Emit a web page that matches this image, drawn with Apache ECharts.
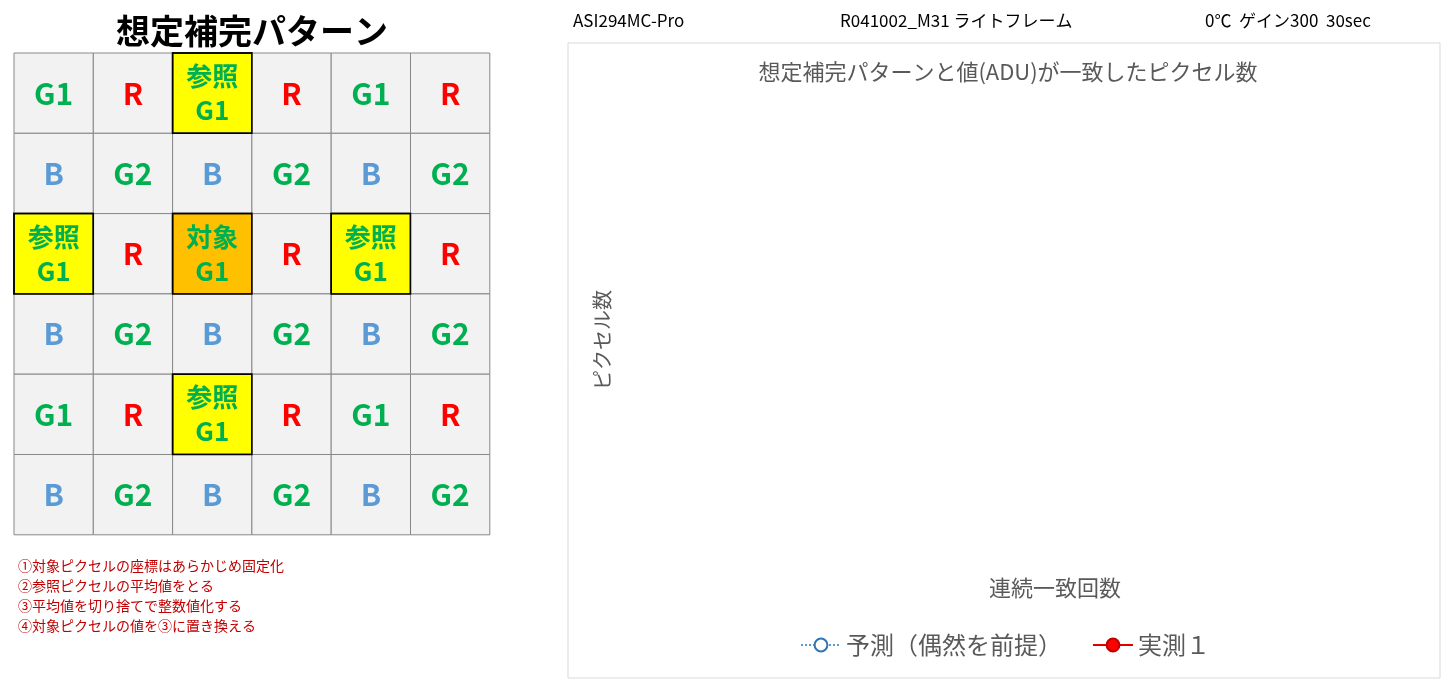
<!DOCTYPE html><html><head><meta charset="utf-8">
<script src="https://cdn.jsdelivr.net/npm/echarts@6/dist/echarts.min.js"></script>
<style>html,body{margin:0;background:#fff}#c{width:1456px;height:686px}</style></head><body><div id="c"></div>
<script>
const categories=['1','2','3','4','5','6','7','8','9','10','11','12','13','14','15'];
const predicted=[6.2e3,3.7e1,2.2e-1,1.3e-3,1.1e-5,6.6e-8,4.0e-10,2.4e-12,1.7e-14,1.0e-16,6.3e-19,4.0e-21,2.5e-23,1.6e-25,1.0e-27];
const measured=[6.2e3,900,900,900,900,900,900,900,900,900,900,900,900,900,900];
const cells=[
 ['G1','R','参照\nG1','R','G1','R'],
 ['B','G2','B','G2','B','G2'],
 ['参照\nG1','R','対象\nG1','R','参照\nG1','R'],
 ['B','G2','B','G2','B','G2'],
 ['G1','R','参照\nG1','R','G1','R'],
 ['B','G2','B','G2','B','G2']];
const notes=['①対象ピクセルの座標はあらかじめ固定化','②参照ピクセルの平均値をとる','③平均値を切り捨てで整数値化する','④対象ピクセルの値を③に置き換える'];
const F='"Noto Sans CJK JP","Noto Sans",sans-serif';
const g=[];
const x0=14,y0=53,cw=79.3,ch=80.3;
const colorOf=t=>t.indexOf('G')>=0?'#00b050':(t==='R'?'#ff0000':'#5b9bd5');
cells.forEach((row,r)=>row.forEach((t,c)=>{
  const ref=t.indexOf('\n')>=0, tgt=t.startsWith('対象');
  g.push({type:'rect',shape:{x:x0+c*cw,y:y0+r*ch,width:cw,height:ch},z:1,
    style:{fill:tgt?'#ffc000':(ref?'#ffff00':'#f2f2f2'),stroke:ref?'#000':'#888',lineWidth:ref?1.5:1}});
  g.push({type:'text',x:x0+c*cw+cw/2,y:y0+r*ch+ch/2,z:2,style:{text:t,fill:colorOf(t),font:'bold '+(ref?26:30)+'px '+F,align:'center',verticalAlign:'middle',lineHeight:34}});
}));
cells.forEach((row,r)=>row.forEach((t,c)=>{ if(t.indexOf('\n')>=0) g.push({type:'rect',z:3,shape:{x:x0+c*cw,y:y0+r*ch,width:cw,height:ch},style:{fill:'none',stroke:'#000',lineWidth:1.5}});}));
g.push({type:'text',x:252,y:31,style:{text:'想定補完パターン',font:'bold 34px '+F,fill:'#000',align:'center',verticalAlign:'middle'}});
notes.forEach((n,i)=>g.push({type:'text',x:18,y:566+i*20,style:{text:n,font:'14px '+F,fill:'#c00000',verticalAlign:'middle'}}));
g.push({type:'rect',shape:{x:568,y:43,width:872,height:635},style:{fill:'none',stroke:'#d9d9d9',lineWidth:1}});
g.push({type:'text',x:573,y:21,style:{text:'ASI294MC-Pro',font:'17px '+F,fill:'#000',verticalAlign:'middle'}});
g.push({type:'text',x:840,y:21,style:{text:'R041002_M31 ライトフレーム',font:'17px '+F,fill:'#000',verticalAlign:'middle'}});
g.push({type:'text',x:1205,y:21,style:{text:'0℃  ゲイン300  30sec',font:'17px '+F,fill:'#000',verticalAlign:'middle'}});
g.push({type:'text',x:1008,y:72,style:{text:'想定補完パターンと値(ADU)が一致したピクセル数',font:'22px '+F,fill:'#595959',align:'center',verticalAlign:'middle'}});
g.push({type:'text',x:1055,y:588,style:{text:'連続一致回数',font:'22px '+F,fill:'#595959',align:'center',verticalAlign:'middle'}});
g.push({type:'text',x:602,y:340,rotation:Math.PI/2,style:{text:'ピクセル数',font:'20px '+F,fill:'#595959',align:'center',verticalAlign:'middle'}});
const chart=echarts.init(document.getElementById('c'));
chart.setOption({
 animation:false,
 grid:{left:692,right:40,top:108,bottom:118},
 graphic:g,
 legend:{top:628,left:795,itemWidth:40,itemHeight:16,itemGap:30,
   textStyle:{fontSize:24,color:'#595959',fontFamily:F},data:['予測（偶然を前提）','実測１']},
 xAxis:{type:'category',data:categories,boundaryGap:false,position:'top',offset:-92,
   axisLine:{show:false},axisTick:{show:false},splitLine:{show:true,lineStyle:{color:'#e0e0e0'}},
   axisLabel:{fontSize:20,color:'#595959',fontFamily:F}},
 yAxis:{type:'log',logBase:10,min:1e-28,max:1e4,interval:2,
   axisLine:{show:false},axisTick:{show:false},
   splitLine:{lineStyle:{color:'#e0e0e0'}},
   axisLabel:{fontSize:14,color:'#595959',fontFamily:F,formatter:v=>Number(v).toFixed(1)}},
 series:[
  {name:'予測（偶然を前提）',type:'line',data:predicted,symbol:'emptyCircle',symbolSize:22,
   lineStyle:{color:'#5b9bd5',width:3,type:'dotted'},itemStyle:{color:'#2e75b6',borderWidth:2},z:2},
  {name:'実測１',type:'line',data:measured,symbol:'circle',symbolSize:12,
   lineStyle:{color:'#e00000',width:2},itemStyle:{color:'#ff0000',borderColor:'#c00000',borderWidth:1},z:3}
 ]
});
</script></body></html>
